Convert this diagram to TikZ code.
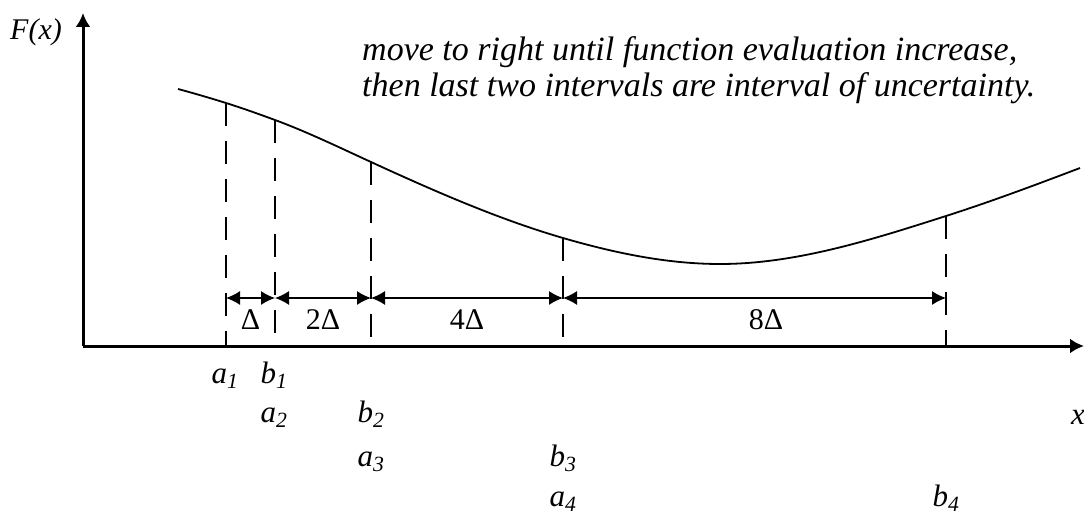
\documentclass[tikz,border=0pt]{standalone}
\usepackage{fontspec}
\setmainfont{Liberation Serif}
\usetikzlibrary{arrows.meta}

\begin{document}
\begin{tikzpicture}[x=1pt, y=-1pt,
	every node/.style={font=\fontsize{30}{34}\selectfont, inner sep=0pt},
	axis/.style={line width=3pt, -{Latex[length=14pt,width=15pt]}},
	guide/.style={line width=2.8pt, dash pattern=on 23pt off 15pt},
	span/.style={line width=1.4pt, {Latex[length=14pt,width=14pt]}-{Latex[length=14pt,width=14pt]}},
	pt/.style={anchor=base, font=\fontsize{31}{34}\selectfont\itshape}]
	\useasboundingbox (0,0) rectangle (1084,516);
	% axes
	\coordinate (O) at (83,346);
	\coordinate (xend) at (1084,346);
	\coordinate (yend) at (83,13);
	\draw[axis] (O) -- (xend);
	\draw[axis] (O) -- (yend);
	\node[anchor=base west, font=\fontsize{30}{34}\selectfont\itshape] (Fx) at (10,40) {F(x)};
	\node[anchor=base west, font=\fontsize{31}{34}\selectfont\itshape] (xl) at (1071,424) {x};
	% the function
	\coordinate (c0) at (178,89);
	\coordinate (c1) at (226,103);
	\coordinate (c2) at (275,120);
	\coordinate (c3) at (371,162);
	\coordinate (c4) at (563,238);
	\coordinate (cm) at (720,264);
	\coordinate (c5) at (946,216);
	\coordinate (c6) at (1080,168);
	\draw[line width=1.8pt] (c0) .. controls (194,93.3) and (210,98) .. (c1)
		.. controls (242.3,108.1) and (258.7,114) .. (c2)
		.. controls (307,131.8) and (339,147.3) .. (c3)
		.. controls (435,191.4) and (499,219.4) .. (c4)
		.. controls (615.3,253.2) and (667.7,264) .. (cm)
		.. controls (795.3,264) and (870.7,240.1) .. (c5)
		.. controls (990.7,201.7) and (1035.3,185) .. (c6);
	% guides down to the axis
	\foreach \i/\x in {1/226, 2/275, 3/371, 4/563, 5/946} {
		\coordinate (g\i) at (\x,346);
		\coordinate (d\i) at (\x,298);
		\draw[guide] (c\i) -- (g\i);
	}
	% interval widths
	\draw[span] (d1) -- (d2) node[midway, below=11pt] (w1) {Δ};
	\draw[span] (d2) -- (d3) node[midway, below=11pt] (w2) {2Δ};
	\draw[span] (d3) -- (d4) node[midway, below=11pt] (w3) {4Δ};
	\draw[span] (d4) -- (d5) node[pos=0.53, below=11pt] (w4) {8Δ};
	% end points
	\node[pt] (a1) at (225,383) {a\textsubscript{1}};
	\node[pt] (b1) at (274,383) {b\textsubscript{1}};
	\node[pt] (a2) at (274,422) {a\textsubscript{2}};
	\node[pt] (b2) at (371,422) {b\textsubscript{2}};
	\node[pt] (a3) at (371,466) {a\textsubscript{3}};
	\node[pt] (b3) at (563,466) {b\textsubscript{3}};
	\node[pt] (a4) at (563,506) {a\textsubscript{4}};
	\node[pt] (b4) at (946,506) {b\textsubscript{4}};
	% note
	\node[anchor=base west, align=left, font=\fontsize{34}{36}\selectfont\itshape] (note) at (362,97)
		{move to right until function evaluation increase,\\then last two intervals are interval of uncertainty.};
\end{tikzpicture}
\end{document}
